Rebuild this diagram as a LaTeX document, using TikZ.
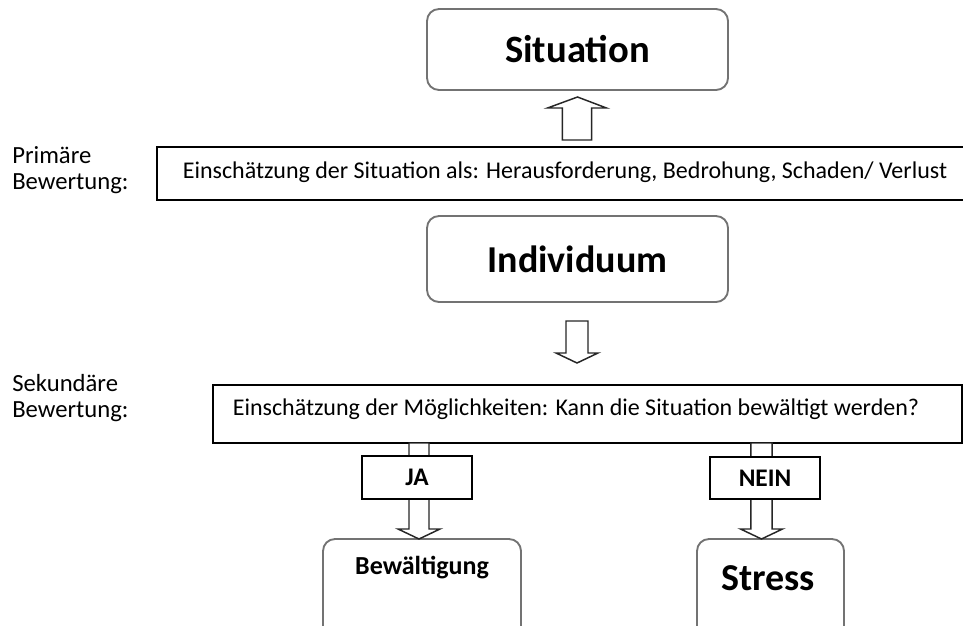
\documentclass[tikz,border=0pt]{standalone}
\usepackage{fontspec}
\setmainfont{Carlito}
\usetikzlibrary{calc}

% block arrow: tail, tip, shaft half width, head half width, head length (all in pt)
\newcommand\blockarr[5]{%
  \draw[blockarrow] let \p1=(#1), \p2=(#2), \n1={sign(\y2-\y1)} in
    (\x1-#3,\y1) -- (\x1-#3,\y2-\n1*#5) -- (\x1-#4,\y2-\n1*#5) -- (\x2,\y2)
    -- (\x1+#4,\y2-\n1*#5) -- (\x1+#3,\y2-\n1*#5) -- (\x1+#3,\y1) -- cycle;}

\begin{document}
\begin{tikzpicture}[x=0.75pt,y=-0.75pt,
    roundbox/.style={draw=black!55, line width=1.4pt, rounded corners=9pt, fill=white, inner sep=0pt},
    flatbox/.style={draw=black, line width=1.1pt, fill=white, inner sep=0pt},
    blockarrow/.style={draw=black!85, line width=1.1pt, fill=white, line join=miter},
    sidetext/.style={align=left, anchor=west, inner sep=0pt, font=\fontsize{18.5}{19.5}\selectfont},
    boxtext/.style={inner sep=0pt, font=\fontsize{18}{20}\selectfont}]
  \clip (0,0) rectangle (963,625);

  \node (sit) [roundbox, minimum width=225.75pt, minimum height=60.75pt] at (577.5,49.5)
    {\fontsize{29}{32}\selectfont\bfseries Situation};
  \node (prim) [flatbox, minimum width=615pt, minimum height=39.75pt] at (567,173.5) {};
  \node (primtext) [boxtext] at (565,172)
    {Einschätzung der Situation als: Herausforderung, Bedrohung, Schaden/ Verlust};
  \node (primlabel) [sidetext] at (12,170) {Primäre\\Bewertung:};

  \node (indiv) [roundbox, minimum width=225.75pt, minimum height=64.5pt] at (577.5,259)
    {\fontsize{28.5}{32}\selectfont\bfseries Individuum};

  \node (sek) [flatbox, minimum width=561.75pt, minimum height=43.5pt] at (587.5,414) {};
  \node (sektext) [boxtext] at (576,409)
    {Einschätzung der Möglichkeiten: Kann die Situation bewältigt werden?};
  \node (seklabel) [sidetext] at (12,398.5) {Sekundäre\\Bewertung:};

  \node (bew) [roundbox, minimum width=148.5pt, minimum height=90pt] at (422,599) {};
  \node (bewtext) at (422,568) {\fontsize{19.5}{22}\selectfont\bfseries Bewältigung};
  \node (stress) [roundbox, minimum width=110.25pt, minimum height=90pt] at (770.5,599) {};
  \node (stresstext) at (768,578) {\fontsize{28.5}{31}\selectfont\bfseries Stress};

  \coordinate (uptail) at (577,140);
  \coordinate (uptip) at (sit.south |- 0,97);
  \coordinate (downtail) at (577,321);
  \coordinate (downtip) at (577,363);
  \coordinate (jatail) at (419,443);
  \coordinate (jatip) at (419,539);
  \coordinate (neintail) at (761.5,443);
  \coordinate (neintip) at (761.5,539);

  \blockarr{uptail}{uptip}{10.9pt}{22.1pt}{8.25pt}
  \blockarr{downtail}{downtip}{8.25pt}{15.75pt}{7.5pt}
  \blockarr{jatail}{jatip}{7.5pt}{15.75pt}{7.5pt}
  \blockarr{neintail}{neintip}{7.9pt}{15.75pt}{7.5pt}

  \node (ja) [flatbox, minimum width=82.5pt, minimum height=32.25pt] at (417,477.5)
    {\fontsize{19}{21}\selectfont\bfseries JA};
  \node (nein) [flatbox, minimum width=82.5pt, minimum height=31.5pt] at (765,478)
    {\fontsize{19}{21}\selectfont\bfseries NEIN};
\end{tikzpicture}
\end{document}
